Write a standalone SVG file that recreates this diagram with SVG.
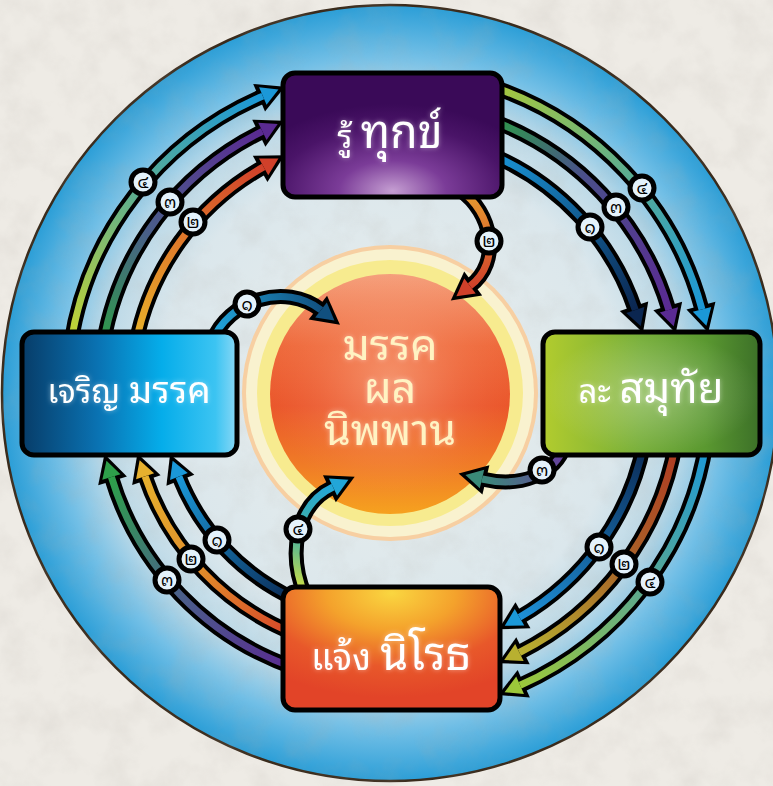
<svg xmlns="http://www.w3.org/2000/svg" width="773" height="786" viewBox="0 0 773 786">
<defs>
<style>
.thai{font-family:"Noto Sans Thai Looped","Noto Sans Thai","Loma","Garuda","Tlwg Typo","Noto Sans","DejaVu Sans",sans-serif;}
.box{stroke:#000;stroke-width:5;}
.blk{fill:none;stroke:#000;stroke-width:15;}
.col{fill:none;stroke-width:7;}
.badge circle{fill:#e4f2fb;stroke:#000;stroke-width:5;}
.badge text{font-size:17px;fill:#000;text-anchor:middle;}
.btxt{fill:#fff;text-anchor:middle;}
.ctxt{fill:#fff3c2;text-anchor:middle;font-size:43px;}
</style>
<filter id="paper" x="0" y="0" width="100%" height="100%"><feTurbulence type="fractalNoise" baseFrequency="0.03" numOctaves="4" seed="7"/><feColorMatrix type="matrix" values="0 0 0 0 0.45  0 0 0 0 0.42  0 0 0 0 0.38  0.9 0 0 0 -0.36"/></filter>
<radialGradient id="gRing" cx="390" cy="393" r="388" gradientUnits="userSpaceOnUse">
<stop offset="0" stop-color="#eaeeec"/>
<stop offset="0.6" stop-color="#dbe7ec"/>
<stop offset="0.76" stop-color="#b9d8e7"/>
<stop offset="0.87" stop-color="#72bfe6"/>
<stop offset="1" stop-color="#2b9ed7"/>
</radialGradient>
<linearGradient id="gBall" x1="0" y1="0" x2="0" y2="1">
<stop offset="0" stop-color="#f5a07c"/>
<stop offset="0.3" stop-color="#ee6a3c"/>
<stop offset="0.55" stop-color="#ea572c"/>
<stop offset="0.8" stop-color="#f07c26"/>
<stop offset="1" stop-color="#f6a21f"/>
</linearGradient>
<radialGradient id="gBallHi" cx="0.5" cy="0.45" r="0.5">
<stop offset="0" stop-color="#ffd0b0" stop-opacity="0.45"/>
<stop offset="0.6" stop-color="#ffb090" stop-opacity="0.15"/>
<stop offset="1" stop-color="#ff9070" stop-opacity="0"/>
</radialGradient>
<radialGradient id="gTop" cx="0.5" cy="0.95" r="0.7">
<stop offset="0" stop-color="#c59ed2"/>
<stop offset="0.35" stop-color="#7b3c98"/>
<stop offset="0.75" stop-color="#4a1468"/>
<stop offset="1" stop-color="#3a0a58"/>
</radialGradient>
<linearGradient id="gLeft" x1="0" y1="0" x2="1" y2="0">
<stop offset="0" stop-color="#073c68"/>
<stop offset="0.35" stop-color="#0a72b2"/>
<stop offset="0.65" stop-color="#05adea"/>
<stop offset="0.9" stop-color="#3cc4f2"/>
<stop offset="1" stop-color="#8ad8f6"/>
</linearGradient>
<linearGradient id="gRight" x1="0" y1="0" x2="1" y2="0">
<stop offset="0" stop-color="#b2cc2e"/>
<stop offset="0.45" stop-color="#76ae38"/>
<stop offset="0.75" stop-color="#5a9830"/>
<stop offset="1" stop-color="#3c7028"/>
</linearGradient>
<radialGradient id="gHi" cx="0.5" cy="0.5" r="0.5">
<stop offset="0" stop-color="#ffffff" stop-opacity="0.3"/>
<stop offset="1" stop-color="#ffffff" stop-opacity="0"/>
</radialGradient>
<radialGradient id="gBot" cx="0.5" cy="0.05" r="0.85">
<stop offset="0" stop-color="#fad640"/>
<stop offset="0.35" stop-color="#f4a22c"/>
<stop offset="0.7" stop-color="#e8582a"/>
<stop offset="1" stop-color="#e24428"/>
</radialGradient>

<linearGradient id="aTLo" gradientUnits="userSpaceOnUse" x1="70.6" y1="345" x2="262.8" y2="96.1"><stop offset="0" stop-color="#c8d62e"/><stop offset="0.5" stop-color="#5eae8e"/><stop offset="1" stop-color="#1b98d8"/></linearGradient>
<linearGradient id="aTLm" gradientUnits="userSpaceOnUse" x1="103" y1="345" x2="262.4" y2="131.4"><stop offset="0" stop-color="#2e9c48"/><stop offset="0.45" stop-color="#4a5d8a"/><stop offset="1" stop-color="#5a2a92"/></linearGradient>
<linearGradient id="aTLi" gradientUnits="userSpaceOnUse" x1="135.5" y1="345" x2="263.6" y2="166.9"><stop offset="0" stop-color="#e8b42a"/><stop offset="0.5" stop-color="#e07a2a"/><stop offset="1" stop-color="#d0402a"/></linearGradient>
<linearGradient id="aTRo" gradientUnits="userSpaceOnUse" x1="490" y1="85.9" x2="702" y2="309.4"><stop offset="0" stop-color="#a8c83a"/><stop offset="0.5" stop-color="#5eae8e"/><stop offset="1" stop-color="#1b98d8"/></linearGradient>
<linearGradient id="aTRm" gradientUnits="userSpaceOnUse" x1="490" y1="119.7" x2="668.9" y2="309.9"><stop offset="0" stop-color="#2e9c48"/><stop offset="0.4" stop-color="#4a4f8a"/><stop offset="1" stop-color="#5a2a92"/></linearGradient>
<linearGradient id="aTRi" gradientUnits="userSpaceOnUse" x1="490" y1="154.1" x2="635.3" y2="310"><stop offset="0" stop-color="#1a96d8"/><stop offset="1" stop-color="#0b2650"/></linearGradient>
<linearGradient id="aBRi" gradientUnits="userSpaceOnUse" x1="644.1" y1="443" x2="519.5" y2="617.3"><stop offset="0" stop-color="#0b2a55"/><stop offset="1" stop-color="#1e90d8"/></linearGradient>
<linearGradient id="aBRm" gradientUnits="userSpaceOnUse" x1="675.7" y1="443" x2="519.4" y2="652.5"><stop offset="0" stop-color="#b03a22"/><stop offset="0.5" stop-color="#a86428"/><stop offset="1" stop-color="#b8b030"/></linearGradient>
<linearGradient id="aBRo" gradientUnits="userSpaceOnUse" x1="706.1" y1="443" x2="520.1" y2="685.3"><stop offset="0" stop-color="#1b98d8"/><stop offset="0.5" stop-color="#5aa890"/><stop offset="1" stop-color="#9cc83a"/></linearGradient>
<linearGradient id="aBLi" gradientUnits="userSpaceOnUse" x1="295" y1="599.2" x2="178.9" y2="476.6"><stop offset="0" stop-color="#0b2a55"/><stop offset="1" stop-color="#1b98d8"/></linearGradient>
<linearGradient id="aBLm" gradientUnits="userSpaceOnUse" x1="295" y1="633.9" x2="145.1" y2="476.3"><stop offset="0" stop-color="#d8452a"/><stop offset="0.5" stop-color="#e08a2a"/><stop offset="1" stop-color="#e6b02e"/></linearGradient>
<linearGradient id="aBLo" gradientUnits="userSpaceOnUse" x1="295" y1="668.1" x2="111.4" y2="477.1"><stop offset="0" stop-color="#5a2a92"/><stop offset="0.5" stop-color="#4a5f8a"/><stop offset="1" stop-color="#2ea04a"/></linearGradient>
<linearGradient id="aC1" gradientUnits="userSpaceOnUse" x1="212" y1="342" x2="323" y2="311"><stop offset="0" stop-color="#22a8de"/><stop offset="1" stop-color="#11507f"/></linearGradient>
<linearGradient id="aC2" gradientUnits="userSpaceOnUse" x1="460" y1="190" x2="468" y2="288"><stop offset="0" stop-color="#e8a030"/><stop offset="1" stop-color="#d0402a"/></linearGradient>
<linearGradient id="aC3" gradientUnits="userSpaceOnUse" x1="565" y1="445" x2="480" y2="479"><stop offset="0" stop-color="#6a3aa0"/><stop offset="1" stop-color="#3a8a78"/></linearGradient>
<linearGradient id="aC4" gradientUnits="userSpaceOnUse" x1="305" y1="595" x2="335" y2="486"><stop offset="0" stop-color="#d8e23e"/><stop offset="0.5" stop-color="#44b0a0"/><stop offset="1" stop-color="#22a6d8"/></linearGradient>

<marker id="mk" markerUnits="userSpaceOnUse" viewBox="-20 -20 50 40" refX="0" refY="0" markerWidth="50" markerHeight="40" orient="auto" overflow="visible"><path d="M-4,-15 L24,0 L-4,15 Z" fill="#000"/></marker>
<marker id="mBlue" markerUnits="userSpaceOnUse" viewBox="-20 -20 50 40" refX="0" refY="0" markerWidth="50" markerHeight="40" orient="auto" overflow="visible"><path d="M0,-9.5 L17,0 L0,9.5 Z" fill="#1b98d8"/></marker>
<marker id="mPurple" markerUnits="userSpaceOnUse" viewBox="-20 -20 50 40" refX="0" refY="0" markerWidth="50" markerHeight="40" orient="auto" overflow="visible"><path d="M0,-9.5 L17,0 L0,9.5 Z" fill="#5a2a92"/></marker>
<marker id="mRed" markerUnits="userSpaceOnUse" viewBox="-20 -20 50 40" refX="0" refY="0" markerWidth="50" markerHeight="40" orient="auto" overflow="visible"><path d="M0,-9.5 L17,0 L0,9.5 Z" fill="#d0402a"/></marker>
<marker id="mNavy" markerUnits="userSpaceOnUse" viewBox="-20 -20 50 40" refX="0" refY="0" markerWidth="50" markerHeight="40" orient="auto" overflow="visible"><path d="M0,-9.5 L17,0 L0,9.5 Z" fill="#0b2650"/></marker>
<marker id="mLime" markerUnits="userSpaceOnUse" viewBox="-20 -20 50 40" refX="0" refY="0" markerWidth="50" markerHeight="40" orient="auto" overflow="visible"><path d="M0,-9.5 L17,0 L0,9.5 Z" fill="#9cc83a"/></marker>
<marker id="mOlive" markerUnits="userSpaceOnUse" viewBox="-20 -20 50 40" refX="0" refY="0" markerWidth="50" markerHeight="40" orient="auto" overflow="visible"><path d="M0,-9.5 L17,0 L0,9.5 Z" fill="#b8b030"/></marker>
<marker id="mYellow" markerUnits="userSpaceOnUse" viewBox="-20 -20 50 40" refX="0" refY="0" markerWidth="50" markerHeight="40" orient="auto" overflow="visible"><path d="M0,-9.5 L17,0 L0,9.5 Z" fill="#e6b02e"/></marker>
<marker id="mGreen" markerUnits="userSpaceOnUse" viewBox="-20 -20 50 40" refX="0" refY="0" markerWidth="50" markerHeight="40" orient="auto" overflow="visible"><path d="M0,-9.5 L17,0 L0,9.5 Z" fill="#2ea04a"/></marker>
<marker id="mC1" markerUnits="userSpaceOnUse" viewBox="-20 -20 50 40" refX="0" refY="0" markerWidth="50" markerHeight="40" orient="auto" overflow="visible"><path d="M0,-9.5 L17,0 L0,9.5 Z" fill="#11507f"/></marker>
<marker id="mTeal" markerUnits="userSpaceOnUse" viewBox="-20 -20 50 40" refX="0" refY="0" markerWidth="50" markerHeight="40" orient="auto" overflow="visible"><path d="M0,-9.5 L17,0 L0,9.5 Z" fill="#3a8a78"/></marker>
<marker id="mCyan" markerUnits="userSpaceOnUse" viewBox="-20 -20 50 40" refX="0" refY="0" markerWidth="50" markerHeight="40" orient="auto" overflow="visible"><path d="M0,-9.5 L17,0 L0,9.5 Z" fill="#22a6d8"/></marker>
<filter id="glow" x="-20%" y="-30%" width="140%" height="160%"><feGaussianBlur in="SourceAlpha" stdDeviation="2.5" result="b"/><feFlood flood-color="#ffffff" flood-opacity="0.45"/><feComposite operator="in" in2="b"/><feMerge><feMergeNode/><feMergeNode in="SourceGraphic"/></feMerge></filter>
</defs>

<rect x="0" y="0" width="773" height="786" fill="#eeebe5"/>
<circle id="ring" cx="390" cy="393" r="388" fill="url(#gRing)" stroke="#3a2b1c" stroke-width="2.5"/>
<rect x="0" y="0" width="773" height="786" filter="url(#paper)" opacity="0.35"/>

<g id="core">
<circle cx="390" cy="393" r="148" fill="#f7cfa2"/>
<circle cx="390" cy="393" r="144" fill="#f9f2cf"/>
<circle cx="390" cy="393" r="133" fill="#f7eb8f"/>
<circle cx="390" cy="394" r="120" fill="url(#gBall)"/>
<circle cx="390" cy="394" r="120" fill="url(#gBallHi)"/>
<text class="thai ctxt" x="390" y="360" filter="url(#glow)">มรรค</text>
<text class="thai ctxt" x="390" y="403" filter="url(#glow)">ผล</text>
<text class="thai ctxt" x="390" y="445" filter="url(#glow)">นิพพาน</text>
</g>

<g id="connectors">
<path class="blk" marker-end="url(#mk)" d="M70.6 345 A323 323 0 0 1 262.8 96.1"/>
<path class="col" stroke="url(#aTLo)" marker-end="url(#mBlue)" d="M70.6 345 A323 323 0 0 1 262.8 96.1"/>
<path class="blk" marker-end="url(#mk)" d="M103 345 A291 291 0 0 1 262.4 131.4"/>
<path class="col" stroke="url(#aTLm)" marker-end="url(#mPurple)" d="M103 345 A291 291 0 0 1 262.4 131.4"/>
<path class="blk" marker-end="url(#mk)" d="M135.5 345 A259 259 0 0 1 263.6 166.9"/>
<path class="col" stroke="url(#aTLi)" marker-end="url(#mRed)" d="M135.5 345 A259 259 0 0 1 263.6 166.9"/>

<path class="blk" marker-end="url(#mk)" d="M490 85.9 A323 323 0 0 1 702 309.4"/>
<path class="col" stroke="url(#aTRo)" marker-end="url(#mBlue)" d="M490 85.9 A323 323 0 0 1 702 309.4"/>
<path class="blk" marker-end="url(#mk)" d="M490 119.7 A291 291 0 0 1 668.9 309.9"/>
<path class="col" stroke="url(#aTRm)" marker-end="url(#mPurple)" d="M490 119.7 A291 291 0 0 1 668.9 309.9"/>
<path class="blk" marker-end="url(#mk)" d="M490 154.1 A259 259 0 0 1 635.3 310"/>
<path class="col" stroke="url(#aTRi)" marker-end="url(#mNavy)" d="M490 154.1 A259 259 0 0 1 635.3 310"/>

<path class="blk" marker-end="url(#mk)" d="M644.1 443 A259 259 0 0 1 519.5 617.3"/>
<path class="col" stroke="url(#aBRi)" marker-end="url(#mBlue)" d="M644.1 443 A259 259 0 0 1 519.5 617.3"/>
<path class="blk" marker-end="url(#mk)" d="M675.7 443 A290 290 0 0 1 519.4 652.5"/>
<path class="col" stroke="url(#aBRm)" marker-end="url(#mOlive)" d="M675.7 443 A290 290 0 0 1 519.4 652.5"/>
<path class="blk" marker-end="url(#mk)" d="M706.1 443 A320 320 0 0 1 520.1 685.3"/>
<path class="col" stroke="url(#aBRo)" marker-end="url(#mLime)" d="M706.1 443 A320 320 0 0 1 520.1 685.3"/>

<path class="blk" marker-end="url(#mk)" d="M295 599.2 A227 227 0 0 1 178.9 476.6"/>
<path class="col" stroke="url(#aBLi)" marker-end="url(#mBlue)" d="M295 599.2 A227 227 0 0 1 178.9 476.6"/>
<path class="blk" marker-end="url(#mk)" d="M295 633.9 A259 259 0 0 1 145.1 476.3"/>
<path class="col" stroke="url(#aBLm)" marker-end="url(#mYellow)" d="M295 633.9 A259 259 0 0 1 145.1 476.3"/>
<path class="blk" marker-end="url(#mk)" d="M295 668.1 A291 291 0 0 1 111.4 477.1"/>
<path class="col" stroke="url(#aBLo)" marker-end="url(#mGreen)" d="M295 668.1 A291 291 0 0 1 111.4 477.1"/>

<path class="blk" marker-end="url(#mk)" d="M212 342 C228 300 285 282 321 310"/>
<path class="col" stroke="url(#aC1)" marker-end="url(#mC1)" d="M212 342 C228 300 285 282 321 310"/>
<path class="blk" marker-end="url(#mk)" d="M460 190 C492 212 502 262 470 286"/>
<path class="col" stroke="url(#aC2)" marker-end="url(#mRed)" d="M460 190 C492 212 502 262 470 286"/>
<path class="blk" marker-end="url(#mk)" d="M565 445 C555 475 520 488 482 479"/>
<path class="col" stroke="url(#aC3)" marker-end="url(#mTeal)" d="M565 445 C555 475 520 488 482 479"/>
<path class="blk" marker-end="url(#mk)" d="M305 595 C288 555 295 505 333 487"/>
<path class="col" stroke="url(#aC4)" marker-end="url(#mCyan)" d="M305 595 C288 555 295 505 333 487"/>

<g class="badge thai"><circle cx="143" cy="182" r="12"/><text x="143" y="188">๔</text></g>
<g class="badge thai"><circle cx="170" cy="202" r="12"/><text x="170" y="208">๓</text></g>
<g class="badge thai"><circle cx="193" cy="222" r="12"/><text x="193" y="228">๒</text></g>
<g class="badge thai"><circle cx="642" cy="188" r="12"/><text x="642" y="194">๔</text></g>
<g class="badge thai"><circle cx="616" cy="207" r="12"/><text x="616" y="213">๓</text></g>
<g class="badge thai"><circle cx="590" cy="227" r="12"/><text x="590" y="233">๑</text></g>
<g class="badge thai"><circle cx="599" cy="547" r="12"/><text x="599" y="553">๑</text></g>
<g class="badge thai"><circle cx="624" cy="564" r="12"/><text x="624" y="570">๒</text></g>
<g class="badge thai"><circle cx="650" cy="582" r="12"/><text x="650" y="588">๔</text></g>
<g class="badge thai"><circle cx="217" cy="540" r="12"/><text x="217" y="546">๑</text></g>
<g class="badge thai"><circle cx="191" cy="559" r="12"/><text x="191" y="565">๒</text></g>
<g class="badge thai"><circle cx="167" cy="580" r="12"/><text x="167" y="586">๓</text></g>
<g class="badge thai"><circle cx="247" cy="304" r="12"/><text x="247" y="310">๑</text></g>
<g class="badge thai"><circle cx="489" cy="241" r="12"/><text x="489" y="247">๒</text></g>
<g class="badge thai"><circle cx="542" cy="470" r="12"/><text x="542" y="476">๓</text></g>
<g class="badge thai"><circle cx="298" cy="529" r="12"/><text x="298" y="535">๔</text></g>
</g>

<g id="node-top">
<rect class="box" x="283" y="73" width="219" height="124" rx="12" fill="url(#gTop)"/>
<text class="thai btxt" x="390" y="148" filter="url(#glow)"><tspan font-size="32">รู้ </tspan><tspan font-size="45">ทุกข์</tspan></text>
</g>
<g id="node-left">
<rect class="box" x="22" y="332" width="215" height="123" rx="12" fill="url(#gLeft)"/>
<text class="thai btxt" x="129" y="403" filter="url(#glow)"><tspan font-size="33">เจริญ </tspan><tspan font-size="37">มรรค</tspan></text>
</g>
<g id="node-right">
<rect class="box" x="543" y="332" width="217" height="123" rx="12" fill="url(#gRight)"/>
<rect x="543" y="332" width="217" height="123" rx="12" fill="url(#gHi)"/>
<text class="thai btxt" x="651" y="403" filter="url(#glow)"><tspan font-size="33">ละ </tspan><tspan font-size="42">สมุทัย</tspan></text>
</g>
<g id="node-bottom">
<rect class="box" x="283" y="587" width="217" height="123" rx="12" fill="url(#gBot)"/>
<text class="thai btxt" x="391" y="670" filter="url(#glow)"><tspan font-size="36">แจ้ง </tspan><tspan font-size="45">นิโรธ</tspan></text>
</g>
</svg>
